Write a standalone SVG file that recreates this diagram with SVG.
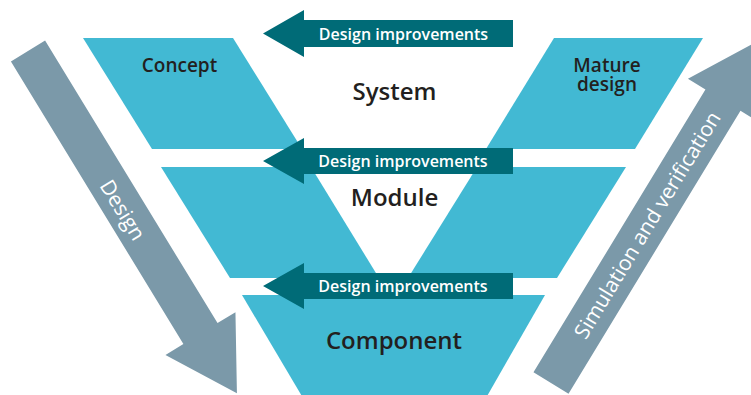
<svg xmlns="http://www.w3.org/2000/svg" width="751" height="395" viewBox="0 0 751 395">
<style>
.blk{fill:#42B9D3}
.teal{fill:#006B77}
.grey{fill:#7B99A9}
.lbl{font-family:"Open Sans","Liberation Sans",sans-serif;font-weight:600;fill:#231F20;text-anchor:middle}
.big{font-size:24px}
.sm{font-size:19px}
.imp{font-family:"Open Sans","Liberation Sans",sans-serif;font-weight:600;font-size:16px;fill:#FFFFFF;text-anchor:middle}
.gtx{font-family:"Open Sans","Liberation Sans",sans-serif;font-weight:500;font-size:21px;fill:#FFFFFF;text-anchor:middle}
</style>
<rect width="751" height="395" fill="#FFFFFF"/>
<g id="concept">
<polygon class="blk" points="83,38 233,38 302,149 152,149"/>
<text class="lbl sm" x="179.5" y="72">Concept</text>
</g>
<g id="mature-design">
<polygon class="blk" points="554,38 703,38 635,149 486,149"/>
<text class="lbl sm" x="607" y="71.5">Mature</text>
<text class="lbl sm" x="607" y="91">design</text>
</g>
<g id="system">
<text class="lbl big" x="394.5" y="100">System</text>
</g>
<g id="module-left">
<polygon class="blk" points="161,167 311,167 379,278 230,278"/>
</g>
<g id="module-right">
<polygon class="blk" points="477,167 626,167 557,278 408,278"/>
</g>
<g id="module">
<text class="lbl big" x="394.5" y="206">Module</text>
</g>
<g id="component">
<polygon class="blk" points="242,295 545,295 486,398 303,398"/>
<text class="lbl big" x="394" y="348.5">Component</text>
</g>
<g id="connectors">
<g id="improve-1">
<polygon class="teal" points="263,33.5 304,10 304,20 513,20 513,47 304,47 304,57"/>
<text class="imp" x="403.5" y="39.5">Design improvements</text>
</g>
<g id="improve-2">
<polygon class="teal" points="263,161 304,138 304,148 513,148 513,174 304,174 304,184"/>
<text class="imp" x="403" y="166.5">Design improvements</text>
</g>
<g id="improve-3">
<polygon class="teal" points="263,286 304,263 304,273 513,273 513,299 304,299 304,309"/>
<text class="imp" x="403" y="291.5">Design improvements</text>
</g>
<g id="design-arrow" transform="translate(28,51) rotate(58.6)">
<polygon class="grey" points="0,-20 331,-20 331,-41 401,0 331,41 331,20 0,20"/>
<text class="gtx" x="185" y="9.5">Design</text>
</g>
<g id="verification-arrow" transform="translate(551,383) rotate(-58.7)">
<polygon class="grey" points="0,-20.5 331,-20.5 331,-41 401,0 331,41 331,20.5 0,20.5"/>
<text class="gtx" x="185" y="7.5">Simulation and verification</text>
</g>
</g>
</svg>
